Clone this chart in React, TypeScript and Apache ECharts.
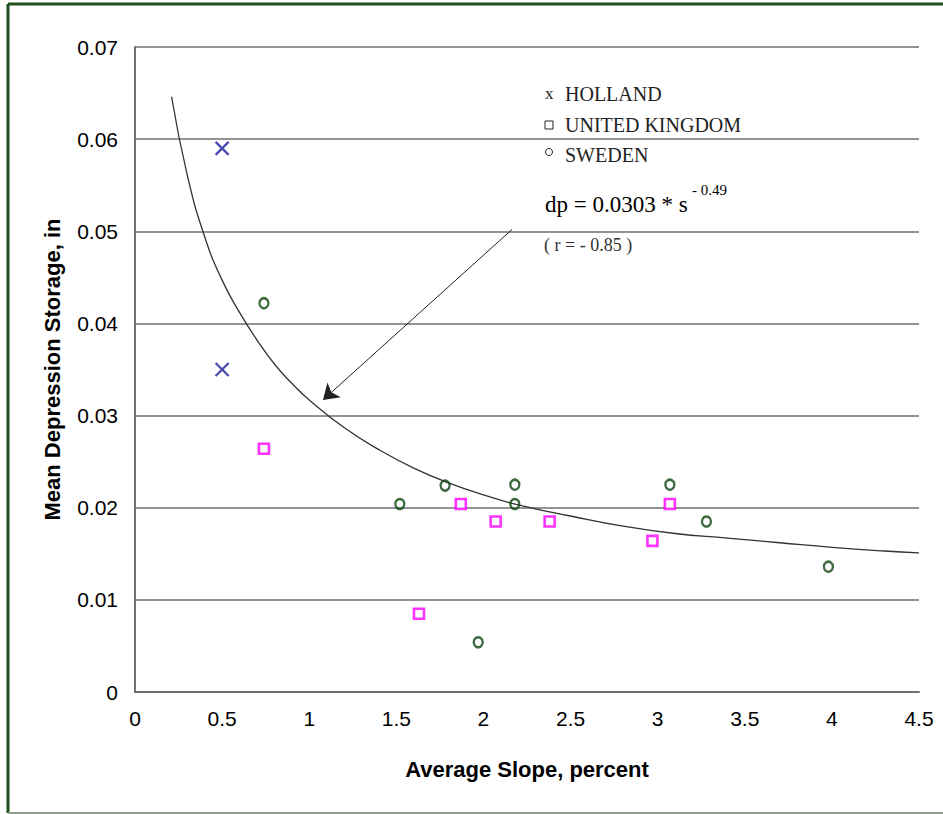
import React, { useEffect, useRef } from 'react';
import * as echarts from 'echarts';

// Data
const hollandX = [0.5, 0.5];
const hollandY = [0.059, 0.035];

const ukX = [0.74, 1.63, 1.87, 2.07, 2.38, 2.97, 3.07];
const ukY = [0.0264, 0.0085, 0.0204, 0.0185, 0.0185, 0.0164, 0.0204];

const swedenX = [0.74, 1.52, 1.78, 1.97, 2.18, 2.18, 3.07, 3.28, 3.98];
const swedenY = [0.0422, 0.0204, 0.0224, 0.0054, 0.0225, 0.0204, 0.0225, 0.0185, 0.0136];

// Fitted curve dp = 0.0303 * s^-0.49
const curveX = [0.21, 0.3, 0.4, 0.5, 0.6, 0.7, 0.8, 0.9, 1.0, 1.2, 1.4, 1.6, 1.8, 2.0, 2.2, 2.5, 2.8, 3.1, 3.4, 3.7, 4.0, 4.3, 4.5];
const curveY = [0.0646, 0.0561, 0.0494, 0.0447, 0.0412, 0.0382, 0.0356, 0.0335, 0.0317, 0.0287, 0.0263, 0.0243, 0.0227, 0.0214, 0.0203, 0.0191, 0.018, 0.0172, 0.0167, 0.0162, 0.0157, 0.0153, 0.0151];

// Arrow annotation (start -> end), in data coordinates
const arrowStart = [2.164, 0.0502];
const arrowEnd = [1.079, 0.0317];

const xTicks = { min: 0, max: 4.5, interval: 0.5 };
const yTicks = { min: 0, max: 0.07, interval: 0.01 };

const zip = (xs: number[], ys: number[]) => xs.map((x, i) => [x, ys[i]]);

export default function App() {
  const ref = useRef<HTMLDivElement>(null);
  useEffect(() => {
    const chart = echarts.init(ref.current!, null, { renderer: 'svg' });
    const gridColor = '#6f6f6f';
    const serif = '"Liberation Serif", "Times New Roman", serif';
    chart.setOption({
      animation: false,
      backgroundColor: '#ffffff',
      grid: { left: 135, right: 24, top: 47, bottom: 122, containLabel: false },
      xAxis: {
        type: 'value',
        min: xTicks.min,
        max: xTicks.max,
        interval: xTicks.interval,
        name: 'Average Slope, percent',
        nameLocation: 'middle',
        nameGap: 66,
        nameTextStyle: { fontFamily: 'Liberation Sans, Arial, sans-serif', fontSize: 22, fontWeight: 'bold', color: '#000' },
        axisLine: { show: true, lineStyle: { color: gridColor, width: 2 } },
        axisTick: { show: false },
        splitLine: { show: false },
        axisLabel: {
          fontFamily: 'Liberation Sans, Arial, sans-serif',
          fontSize: 21,
          color: '#000',
          margin: 16,
          formatter: (v: number) => String(Math.round(v * 10) / 10),
        },
      },
      yAxis: {
        type: 'value',
        min: yTicks.min,
        max: yTicks.max,
        interval: yTicks.interval,
        name: 'Mean Depression Storage, in',
        nameLocation: 'middle',
        nameGap: 72,
        nameTextStyle: { fontFamily: 'Liberation Sans, Arial, sans-serif', fontSize: 22, fontWeight: 'bold', color: '#000' },
        axisLine: { show: true, lineStyle: { color: gridColor, width: 2 } },
        axisTick: { show: false },
        splitLine: { show: true, lineStyle: { color: gridColor, width: 1.6 } },
        axisLabel: {
          fontFamily: 'Liberation Sans, Arial, sans-serif',
          fontSize: 21,
          color: '#000',
          margin: 17,
          formatter: (v: number) => (v === 0 ? '0' : v.toFixed(2)),
        },
      },
      series: [
        {
          name: 'fit',
          type: 'line',
          data: zip(curveX, curveY),
          smooth: 0.5,
          showSymbol: false,
          symbol: 'none',
          lineStyle: { color: '#333', width: 1.3 },
          z: 2,
          markLine: {
            silent: true,
            symbol: ['none', 'arrow'],
            symbolSize: 15,
            label: { show: false },
            itemStyle: { color: '#111' },
            lineStyle: { color: '#222', width: 1, type: 'solid' },
            data: [[{ coord: arrowStart }, { coord: arrowEnd }]],
          },
        },
        {
          name: 'HOLLAND',
          type: 'scatter',
          data: zip(hollandX, hollandY),
          symbol: 'path://M0 0 L10 10 M10 0 L0 10',
          symbolSize: 13,
          itemStyle: { color: 'transparent', borderColor: '#1c1c9c', borderWidth: 2.3 },
          z: 5,
        },
        {
          name: 'UNITED KINGDOM',
          type: 'scatter',
          data: zip(ukX, ukY),
          symbol: 'rect',
          symbolSize: 10,
          itemStyle: { color: '#ffffff', borderColor: '#ff00ff', borderWidth: 2.6 },
          z: 5,
        },
        {
          name: 'SWEDEN',
          type: 'scatter',
          data: zip(swedenX, swedenY),
          symbol: 'circle',
          symbolSize: [9, 10],
          itemStyle: { color: 'transparent', borderColor: '#0f440f', borderWidth: 2.4 },
          z: 5,
        },
      ],
      graphic: [
        { type: 'line', shape: { x1: 8, y1: 4, x2: 943, y2: 4 }, style: { stroke: '#1f4f1f', lineWidth: 3 } },
        { type: 'line', shape: { x1: 8, y1: 4, x2: 8, y2: 813 }, style: { stroke: '#1f4f1f', lineWidth: 3 } },
        { type: 'line', shape: { x1: 8, y1: 813, x2: 943, y2: 813 }, style: { stroke: '#8fa08f', lineWidth: 2 } },
        // legend
        { type: 'text', style: { text: 'x', x: 545, y: 93, font: `17px ${serif}`, fill: '#222', textVerticalAlign: 'middle' } },
        { type: 'text', style: { text: 'HOLLAND', x: 565, y: 94, font: `20px ${serif}`, fill: '#222', textVerticalAlign: 'middle' } },
        { type: 'rect', shape: { x: 545, y: 121, width: 8, height: 8 }, style: { fill: 'none', stroke: '#222', lineWidth: 1 } },
        { type: 'text', style: { text: 'UNITED KINGDOM', x: 565, y: 125, font: `20px ${serif}`, fill: '#222', textVerticalAlign: 'middle' } },
        { type: 'circle', shape: { cx: 549, cy: 152, r: 3.5 }, style: { fill: 'none', stroke: '#222', lineWidth: 1 } },
        { type: 'text', style: { text: 'SWEDEN', x: 565, y: 155, font: `20px ${serif}`, fill: '#222', textVerticalAlign: 'middle' } },
        // equation
        { type: 'text', style: { text: 'dp = 0.0303 * s', x: 545, y: 204, font: `23px ${serif}`, fill: '#000', textVerticalAlign: 'middle' } },
        { type: 'text', style: { text: '- 0.49', x: 692, y: 190, font: `15px ${serif}`, fill: '#000', textVerticalAlign: 'middle' } },
        { type: 'text', style: { text: '( r = - 0.85 )', x: 544, y: 245, font: `18px ${serif}`, fill: '#333', textVerticalAlign: 'middle' } },
      ],
    });
    return () => chart.dispose();
  }, []);
  return (
    <div
      ref={ref}
      style={{ position: 'fixed', left: 0, top: 0, width: 943, height: 814, background: '#fff' }}
    />
  );
}
